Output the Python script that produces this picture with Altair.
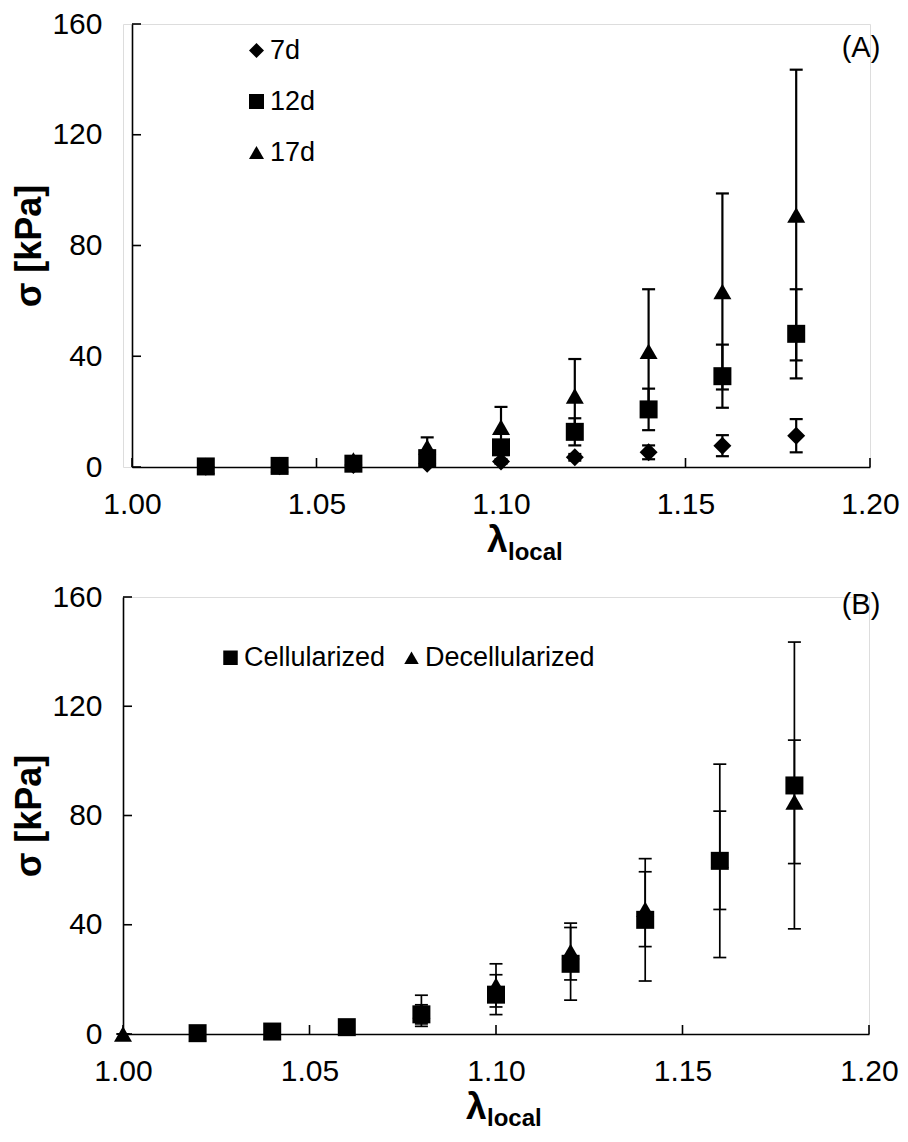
import altair as alt
import pandas as pd

# ---------------- data ----------------
# Panel (A): stress vs local stretch for three culture times
lam_a = [1.02, 1.04, 1.06, 1.08, 1.10, 1.12, 1.14, 1.16, 1.18]
d7_mean = [0.1, 0.3, 0.7, 1.2, 2.0, 3.5, 5.3, 7.7, 11.3]
d7_sd = [0.05, 0.1, 0.3, 0.5, 0.8, 1.2, 2.5, 3.8, 6.0]
d12_mean = [0.2, 0.4, 1.2, 3.2, 7.1, 12.7, 20.8, 32.8, 48.1]
d12_sd = [0.1, 0.2, 0.5, 1.2, 2.5, 4.9, 7.5, 11.4, 16.1]
d17_mean = [0.3, 0.9, 2.5, 7.2, 14.4, 25.7, 41.8, 63.4, 91.0]
d17_sd = [0.2, 0.5, 1.2, 3.5, 7.3, 13.3, 22.4, 35.4, 52.5]
series_a = ["7d", "12d", "17d"]

# Panel (B): cellularized vs decellularized
lam_cell = [1.02, 1.04, 1.06, 1.08, 1.10, 1.12, 1.14, 1.16, 1.18]
cell_mean = [0.3, 0.9, 2.5, 7.2, 14.4, 25.7, 41.8, 63.4, 91.0]
cell_sd = [0.2, 0.5, 1.2, 3.5, 7.3, 13.3, 22.4, 35.4, 52.5]
lam_decell = [1.00, 1.02, 1.04, 1.06, 1.08, 1.10, 1.12, 1.14, 1.16, 1.18]
decell_mean = [0.0, 0.2, 0.8, 2.5, 8.5, 17.8, 30.2, 45.7, 63.6, 85.0]
decell_sd = [0.0, 0.1, 0.3, 1.0, 5.7, 7.9, 10.4, 13.7, 18.0, 22.6]
series_b = ["Cellularized", "Decellularized"]

x_ticks = [1.00, 1.05, 1.10, 1.15, 1.20]
y_ticks = [0, 40, 80, 120, 160]

FONT = "Liberation Sans"


def frame(lams, means, sds, name, field):
    return pd.DataFrame({
        "lam": lams,
        "mean": means,
        "lo": [m - s for m, s in zip(means, sds)],
        "hi": [m + s for m, s in zip(means, sds)],
        field: [name] * len(lams),
    })


df_a = pd.concat([
    frame(lam_a, d7_mean, d7_sd, "7d", "day"),
    frame(lam_a, d12_mean, d12_sd, "12d", "day"),
    frame(lam_a, d17_mean, d17_sd, "17d", "day"),
], ignore_index=True)

df_b = pd.concat([
    frame(lam_cell, cell_mean, cell_sd, "Cellularized", "group"),
    frame(lam_decell, decell_mean, decell_sd, "Decellularized", "group"),
], ignore_index=True)


def panel(df, field, domain, shapes, w, h, x0, x1, label_pad, legend, tag, tag_xy,
          lam_x, lam_dy, sub_dy, err_w):
    # x0/x1: pixel range of the x scale inside the panel (the y axis sits at x0)
    xs = alt.Scale(domain=[1.0, 1.2], nice=False, zero=False, range=[x0, x1])
    ys = alt.Scale(domain=[0, 160], nice=False)

    x_axis = alt.Axis(values=x_ticks, format=".2f", tickSize=0, labelPadding=22,
                      labelFontSize=30, labelFont=FONT, labelColor="black",
                      domainColor="black", domainWidth=1.6, grid=False,
                      labelFlush=False, title="")
    y_axis = alt.Axis(values=y_ticks, format="d", tickSize=0, labelPadding=label_pad,
                      labelFontSize=30, labelFont=FONT, labelColor="black",
                      domainColor="black", domainWidth=1.6, grid=False,
                      offset=-x0,
                      title="σ [kPa]", titleFont=FONT, titleFontSize=36,
                      titleFontWeight="bold", titleColor="black", titlePadding=3)

    base = alt.Chart(df)
    err = base.mark_rule(color="black", strokeWidth=err_w).encode(
        x=alt.X("lam:Q", scale=xs, axis=x_axis),
        y=alt.Y("lo:Q", scale=ys, axis=y_axis),
        y2="hi:Q",
    )
    cap_lo = base.mark_tick(color="black", orient="horizontal", size=13,
                            thickness=err_w, opacity=1).encode(
        x=alt.X("lam:Q", scale=xs, axis=None),
        y=alt.Y("lo:Q", scale=ys, axis=None),
    )
    cap_hi = base.mark_tick(color="black", orient="horizontal", size=13,
                            thickness=err_w, opacity=1).encode(
        x=alt.X("lam:Q", scale=xs, axis=None),
        y=alt.Y("hi:Q", scale=ys, axis=None),
    )
    pts = base.mark_point(filled=True, size=324, opacity=1, color="black",
                          strokeWidth=0).encode(
        x=alt.X("lam:Q", scale=xs, axis=None),
        y=alt.Y("mean:Q", scale=ys, axis=None),
        shape=alt.Shape(f"{field}:N",
                        scale=alt.Scale(domain=domain, range=shapes),
                        legend=legend),
    )

    yt = alt.Chart(pd.DataFrame({"v": y_ticks})).mark_rule(
        color="black", strokeWidth=1.6).encode(
        y=alt.Y("v:Q", scale=ys, axis=None),
        x=alt.value(x0), x2=alt.value(x0 + 9),
    )
    xt = alt.Chart(pd.DataFrame({"v": x_ticks})).mark_rule(
        color="black", strokeWidth=1.6).encode(
        x=alt.X("v:Q", scale=xs, axis=None),
        y=alt.value(h), y2=alt.value(h - 9),
    )

    tag_txt = alt.Chart(pd.DataFrame({"t": [tag]})).mark_text(
        font=FONT, fontSize=29, color="black", align="center", baseline="middle"
    ).encode(x=alt.value(tag_xy[0]), y=alt.value(tag_xy[1]), text="t:N")

    lam_txt = alt.Chart(pd.DataFrame({"t": ["λ"]})).mark_text(
        font=FONT, fontSize=37, fontWeight="bold", color="black",
        align="left", baseline="alphabetic"
    ).encode(x=alt.value(lam_x), y=alt.value(h + lam_dy), text="t:N")
    sub_txt = alt.Chart(pd.DataFrame({"t": ["local"]})).mark_text(
        font=FONT, fontSize=24, fontWeight="bold", color="black",
        align="left", baseline="alphabetic"
    ).encode(x=alt.value(lam_x + 21), y=alt.value(h + sub_dy), text="t:N")

    return alt.layer(err, cap_lo, cap_hi, pts, yt, xt, tag_txt, lam_txt, sub_txt).resolve_axis(
        x="independent", y="independent"
    ).properties(width=w, height=h)


legend_a = alt.Legend(title=None, orient="none", legendX=120, legendY=13,
                      direction="vertical", symbolSize=225, symbolFillColor="black",
                      symbolStrokeColor="black", symbolStrokeWidth=0,
                      labelFont=FONT, labelFontSize=27, labelColor="black",
                      labelOffset=0, rowPadding=23, padding=0, labelLimit=400)
legend_b = alt.Legend(title=None, orient="none", legendX=94, legendY=47,
                      direction="horizontal", symbolSize=210, symbolFillColor="black",
                      symbolStrokeColor="black", symbolStrokeWidth=0,
                      labelFont=FONT, labelFontSize=27, labelColor="black",
                      labelOffset=0, columnPadding=12, padding=0, labelLimit=400)

chart_a = panel(df_a, "day", series_a, ["diamond", "square", "triangle-up"],
                747, 443, 9, 747, 30, legend_a, "(A)", (738, 24), 364, 85, 93, 2.2)
chart_b = panel(df_b, "group", series_b, ["square", "triangle-up"],
                746, 437, 0, 746, 21, legend_b, "(B)", (738, 8), 343, 85, 92, 1.7)

chart = alt.concat(chart_a, chart_b, columns=1, spacing=15).resolve_scale(
    x="independent", y="independent", shape="independent"
).resolve_legend(shape="independent").properties(
    padding={"left": 3, "top": 0, "right": 0, "bottom": 0}
).configure_view(stroke="transparent").configure(background="white")

chart.save("out.html", embed_options={"renderer": "svg", "actions": False})
